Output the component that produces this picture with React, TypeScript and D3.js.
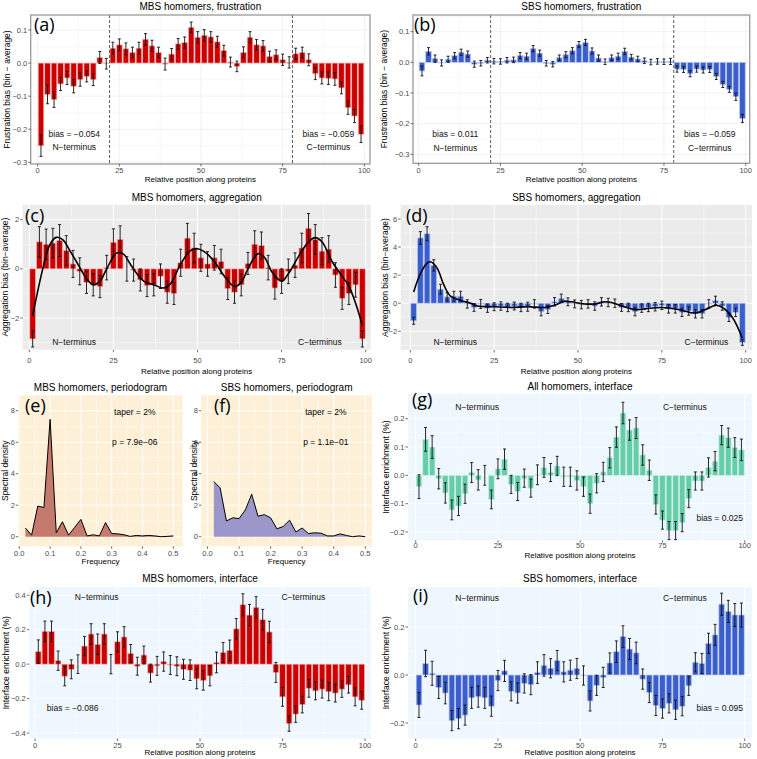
import React from "react";
import * as d3 from "d3";

// ---------- DATA ----------
const positions = [1, 3, 5, 7, 9, 11, 13, 15, 17, 19, 21, 23, 25, 27, 29, 31, 33, 35, 37, 39, 41, 43, 45, 47, 49, 51, 53, 55, 57, 59, 61, 63, 65, 67, 69, 71, 73, 75, 77, 79, 81, 83, 85, 87, 89, 91, 93, 95, 97, 99];
const xTicks = [0, 25, 50, 75, 100];

const frustMBS = [-0.25, -0.095, -0.11, -0.063, -0.045, -0.07, -0.05, -0.04, -0.05, 0.017, -0.002, 0.045, 0.055, 0.043, 0.032, 0.045, 0.072, 0.052, 0.032, -0.003, 0.027, 0.058, 0.062, 0.108, 0.078, 0.084, 0.079, 0.064, 0.038, 0.003, -0.01, 0.032, 0.078, 0.055, 0.052, 0.02, 0.025, 0.01, 0.002, 0.028, 0.032, 0.01, -0.032, -0.045, -0.046, -0.048, -0.075, -0.135, -0.16, -0.215];
const frustMBSErr = [0.032, 0.028, 0.024, 0.02, 0.02, 0.02, 0.02, 0.017, 0.018, 0.018, 0.016, 0.018, 0.018, 0.018, 0.016, 0.018, 0.017, 0.017, 0.016, 0.018, 0.017, 0.016, 0.017, 0.016, 0.017, 0.017, 0.016, 0.017, 0.016, 0.015, 0.016, 0.017, 0.017, 0.016, 0.016, 0.016, 0.015, 0.017, 0.017, 0.017, 0.016, 0.018, 0.018, 0.018, 0.019, 0.019, 0.018, 0.02, 0.02, 0.025];

const frustSBS = [-0.028, 0.036, 0.012, -0.002, 0.01, 0.022, 0.033, 0.027, -0.006, -0.003, 0.007, 0.004, 0.003, 0.007, 0.008, 0.022, 0.02, 0.045, 0.03, -0.003, -0.006, 0.015, 0.025, 0.038, 0.058, 0.065, 0.037, 0.014, 0.002, 0.015, 0.02, 0.036, 0.017, 0.011, 0.005, 0.001, 0.003, 0.002, 0.003, -0.022, -0.023, -0.037, -0.022, -0.025, -0.023, -0.046, -0.072, -0.088, -0.112, -0.183];
const frustSBSErr = [0.016, 0.012, 0.012, 0.01, 0.01, 0.01, 0.01, 0.01, 0.01, 0.009, 0.009, 0.009, 0.009, 0.009, 0.009, 0.01, 0.01, 0.01, 0.01, 0.009, 0.009, 0.009, 0.01, 0.01, 0.01, 0.01, 0.01, 0.01, 0.009, 0.009, 0.01, 0.01, 0.009, 0.009, 0.009, 0.009, 0.009, 0.009, 0.01, 0.01, 0.01, 0.01, 0.01, 0.01, 0.01, 0.01, 0.01, 0.01, 0.012, 0.013];

const aggMBS = [-2.85, 1.1, 1.0, 1.05, 1.15, 0.75, 0.2, -0.1, -0.55, -0.65, -0.72, 0.05, 1.08, 1.2, 0.0, -0.05, -0.45, -0.68, -0.65, -0.3, -0.95, -1.0, 0.25, 1.25, 0.85, 0.45, 0.2, 0.45, 0.3, -0.8, -0.95, -0.65, 0.22, 1.0, 0.95, 0.05, -0.78, -0.5, -0.1, 0.15, 0.85, 1.65, 1.2, 0.72, 0.8, -0.25, -1.2, -1.0, -0.65, -2.85];
const aggMBSErr = [0.33, 0.62, 0.62, 0.6, 0.65, 0.6, 0.55, 0.55, 0.45, 0.45, 0.45, 0.5, 0.55, 0.55, 0.5, 0.45, 0.45, 0.45, 0.45, 0.5, 0.45, 0.45, 0.55, 0.6, 0.6, 0.55, 0.5, 0.5, 0.5, 0.45, 0.45, 0.45, 0.45, 0.55, 0.55, 0.5, 0.45, 0.5, 0.5, 0.5, 0.6, 0.6, 0.6, 0.55, 0.55, 0.5, 0.45, 0.45, 0.5, 0.33];
const aggMBSSmooth: [number, number][] = [[1, -1.9], [4, 0.0], [6, 0.95], [8, 1.28], [10, 1.18], [12, 0.75], [14, 0.3], [17, -0.4], [19, -0.65], [21, -0.5], [23, 0.0], [26, 0.65], [28, 0.6], [30, 0.2], [32, -0.2], [34, -0.5], [37, -0.65], [40, -0.78], [42, -0.6], [45, 0.2], [48, 0.75], [50, 0.82], [52, 0.7], [55, 0.3], [58, -0.3], [61, -0.72], [63, -0.55], [65, 0.0], [68, 0.62], [70, 0.45], [72, -0.1], [75, -0.5], [77, -0.2], [80, 0.5], [83, 1.1], [85, 1.27], [87, 1.1], [90, 0.3], [93, -0.3], [95, -0.7], [97, -1.4], [99, -2.3]];

const aggSBS = [-1.25, 4.65, 4.95, 2.7, 1.0, 0.45, 0.5, 0.5, -0.05, -0.3, -0.05, -0.35, -0.25, -0.2, -0.3, -0.2, -0.3, -0.25, -0.05, -0.6, -0.45, 0.1, 0.35, 0.1, -0.05, -0.1, -0.05, -0.2, 0.1, 0.05, 0.0, -0.3, -0.3, -0.6, -0.35, -0.3, -0.25, -0.15, -0.4, -0.4, -0.65, -0.55, -0.75, -0.75, -0.05, 0.2, -0.2, -1.0, -0.65, -2.8];
const aggSBSErr = [0.25, 0.45, 0.5, 0.4, 0.35, 0.3, 0.35, 0.35, 0.3, 0.28, 0.32, 0.3, 0.28, 0.3, 0.3, 0.28, 0.3, 0.32, 0.3, 0.3, 0.28, 0.3, 0.3, 0.28, 0.28, 0.3, 0.3, 0.3, 0.3, 0.3, 0.3, 0.28, 0.3, 0.3, 0.3, 0.3, 0.3, 0.3, 0.3, 0.3, 0.3, 0.3, 0.3, 0.3, 0.3, 0.3, 0.3, 0.3, 0.3, 0.2];
const aggSBSSmooth: [number, number][] = [[1, 0.8], [3, 2.1], [5, 2.85], [6, 2.95], [8, 2.5], [10, 1.3], [12, 0.5], [15, 0.2], [18, 0.0], [20, -0.2], [25, -0.25], [30, -0.3], [35, -0.25], [40, -0.3], [44, -0.05], [46, 0.15], [48, 0.1], [52, -0.05], [55, -0.05], [58, 0.1], [60, 0.05], [63, -0.2], [67, -0.45], [70, -0.4], [75, -0.3], [80, -0.45], [85, -0.7], [88, -0.45], [91, -0.15], [93, -0.3], [96, -1.0], [99, -2.5]];

const freqs = [0.02, 0.04, 0.06, 0.08, 0.1, 0.12, 0.14, 0.16, 0.18, 0.2, 0.22, 0.24, 0.26, 0.28, 0.3, 0.32, 0.34, 0.36, 0.38, 0.4, 0.42, 0.44, 0.46, 0.48, 0.5];
const specMBS = [0.55, 0.1, 1.95, 1.85, 7.45, 0.25, 0.95, 0.1, 0.6, 1.1, 0.05, 0.12, 0.05, 0.9, 0.2, 0.18, 0.12, 0.02, 0.08, 0.05, 0.08, 0.05, 0.0, 0.02, 0.05];
const specSBS = [3.5, 3.1, 1.0, 1.2, 1.15, 1.7, 2.7, 1.3, 1.4, 1.2, 0.5, 0.65, 1.05, 0.3, 0.55, 0.2, 0.25, 0.22, 0.05, 0.05, 0.18, 0.08, 0.0, 0.05, 0.0];
const freqTicks = [0, 0.1, 0.2, 0.3, 0.4, 0.5];

const ifaceAll = [-0.04, 0.127, 0.1, -0.012, -0.062, -0.122, -0.108, -0.065, 0.01, -0.016, 0.0, -0.085, 0.023, 0.057, -0.032, -0.057, -0.01, -0.045, 0.002, 0.028, 0.01, 0.033, -0.005, -0.005, -0.018, -0.04, -0.1, -0.028, 0.012, 0.062, 0.135, 0.22, 0.16, 0.167, 0.072, 0.018, -0.103, -0.158, -0.195, -0.195, -0.167, -0.082, -0.02, -0.02, 0.028, 0.05, 0.142, 0.133, 0.098, 0.09];
const ifaceAllErr = [0.042, 0.042, 0.04, 0.036, 0.036, 0.035, 0.034, 0.034, 0.035, 0.036, 0.035, 0.033, 0.035, 0.036, 0.032, 0.032, 0.032, 0.032, 0.035, 0.035, 0.032, 0.034, 0.034, 0.034, 0.034, 0.034, 0.034, 0.034, 0.034, 0.036, 0.036, 0.038, 0.036, 0.037, 0.036, 0.036, 0.034, 0.032, 0.032, 0.032, 0.032, 0.032, 0.032, 0.032, 0.034, 0.034, 0.034, 0.034, 0.035, 0.038];

const ifaceMBS = [0.073, 0.19, 0.19, 0.02, -0.07, -0.03, 0.0, 0.105, 0.175, 0.115, 0.175, 0.0, 0.13, 0.158, 0.062, -0.012, 0.053, -0.052, -0.01, 0.015, -0.005, -0.012, -0.03, -0.035, -0.085, -0.095, -0.068, 0.01, 0.068, 0.08, 0.205, 0.345, 0.285, 0.33, 0.258, 0.187, -0.048, -0.19, -0.345, -0.29, -0.235, -0.14, -0.155, -0.145, -0.16, -0.168, -0.145, -0.12, -0.19, -0.21];
const ifaceMBSErr = [0.068, 0.06, 0.06, 0.056, 0.056, 0.055, 0.054, 0.056, 0.06, 0.06, 0.06, 0.056, 0.058, 0.06, 0.052, 0.052, 0.052, 0.052, 0.055, 0.056, 0.055, 0.055, 0.058, 0.06, 0.058, 0.056, 0.058, 0.06, 0.058, 0.06, 0.06, 0.064, 0.062, 0.062, 0.06, 0.062, 0.058, 0.055, 0.045, 0.048, 0.048, 0.052, 0.052, 0.052, 0.052, 0.052, 0.048, 0.048, 0.052, 0.052];

const ifaceSBS = [-0.125, 0.048, 0.007, -0.052, -0.075, -0.19, -0.182, -0.167, -0.095, -0.09, -0.095, -0.13, -0.023, 0.017, -0.068, -0.075, -0.035, -0.04, 0.01, 0.04, 0.028, 0.06, 0.013, 0.02, 0.027, -0.002, -0.108, -0.043, -0.01, 0.05, 0.097, 0.16, 0.108, 0.092, -0.017, -0.073, -0.127, -0.14, -0.118, -0.145, -0.13, -0.045, 0.053, 0.048, 0.132, 0.167, 0.295, 0.265, 0.25, 0.25];
const ifaceSBSErr = [0.052, 0.055, 0.05, 0.046, 0.045, 0.042, 0.042, 0.042, 0.044, 0.044, 0.044, 0.042, 0.042, 0.044, 0.04, 0.042, 0.04, 0.042, 0.045, 0.045, 0.04, 0.042, 0.042, 0.042, 0.042, 0.04, 0.042, 0.042, 0.042, 0.042, 0.045, 0.045, 0.044, 0.045, 0.042, 0.042, 0.042, 0.04, 0.04, 0.04, 0.04, 0.04, 0.04, 0.042, 0.042, 0.044, 0.046, 0.046, 0.048, 0.05];

// ---------- STYLE ----------
const FONT = "'Liberation Sans', Arial, Helvetica, sans-serif";
const LABFONT = "'Open Sans', 'DejaVu Sans', sans-serif";
const RED = "#CD0000", RED_S = "#F5B3B3";
const BLUE = "#3A5FCD", BLUE_S = "#BCC9F2";
const TEAL = "#66CDAA", TEAL_S = "#C6EEDF";
const GRAYBG = "#EBEBEB", ORANGEBG = "#FEF0D6", BLUEBG = "#EEF6FE";

type Note = { text: string; x: number; y: number; anchor?: string };
type BarCfg = {
  title: string; titleY: number;
  rect: [number, number, number, number];
  xPx: [number, number];
  yMap: [number, number, number, number];
  yTicks: number[]; yMinor: number[]; fmt: (v: number) => string;
  bg: string; grid: string; bw?: boolean;
  values: number[]; errs: number[]; fill: string; stroke: string;
  smooth?: [number, number][];
  vlines?: number[];
  notes: Note[];
  label: string; labelX: number; labelY: number;
  yTitle: string; yTitleX: number;
  xTitleY: number; xTickY: number;
};

const f1 = (v: number) => d3.format(".1f")(v).replace("-", "\u2212");
const f0 = (v: number) => d3.format("d")(v).replace("-", "\u2212");

function BarPanel({ c }: { c: BarCfg }) {
  const [l, t, r, b] = c.rect;
  const x = d3.scaleLinear().domain([0, 100]).range(c.xPx);
  const y = d3.scaleLinear().domain([c.yMap[0], c.yMap[2]]).range([c.yMap[1], c.yMap[3]]);
  const bw = x(1.7) - x(0);
  const cap = x(0.45) - x(0);
  const minorX = [12.5, 37.5, 62.5, 87.5];
  const gMajor = c.bw ? 0.7 : 1.0;
  const gMinor = c.bw ? 0.35 : 0.5;
  const line = d3.line<[number, number]>().x(d => x(d[0])).y(d => y(d[1])).curve(d3.curveCatmullRom.alpha(0.5));
  const cx = (l + r) / 2, cy = (t + b) / 2;
  return (
    <g>
      <rect x={l} y={t} width={r - l} height={b - t} fill={c.bg} />
      {c.yMinor.map(v => <line key={"ym" + v} x1={l} x2={r} y1={y(v)} y2={y(v)} stroke={c.grid} strokeWidth={gMinor} />)}
      {minorX.map(v => <line key={"xm" + v} x1={x(v)} x2={x(v)} y1={t} y2={b} stroke={c.grid} strokeWidth={gMinor} />)}
      {c.yTicks.map(v => <line key={"yM" + v} x1={l} x2={r} y1={y(v)} y2={y(v)} stroke={c.grid} strokeWidth={gMajor} />)}
      {xTicks.map(v => <line key={"xM" + v} x1={x(v)} x2={x(v)} y1={t} y2={b} stroke={c.grid} strokeWidth={gMajor} />)}
      {c.values.map((v, i) => (
        <rect key={"b" + i} x={x(positions[i]) - bw / 2} y={Math.min(y(v), y(0))} width={bw}
          height={Math.abs(y(v) - y(0))} fill={c.fill} stroke={c.stroke} strokeWidth={0.7} />
      ))}
      {c.values.map((v, i) => {
        const px = x(positions[i]);
        const y1 = y(v + c.errs[i]), y2 = y(v - c.errs[i]);
        return (
          <g key={"e" + i} stroke="#111" strokeWidth={0.9}>
            <line x1={px} x2={px} y1={y1} y2={y2} />
            <line x1={px - cap} x2={px + cap} y1={y1} y2={y1} />
            <line x1={px - cap} x2={px + cap} y1={y2} y2={y2} />
          </g>
        );
      })}
      {c.smooth && <path d={line(c.smooth) || ""} fill="none" stroke="#000" strokeWidth={1.6} />}
      {(c.vlines || []).map(v => <line key={"v" + v} x1={x(v)} x2={x(v)} y1={t} y2={b} stroke="#333" strokeWidth={0.8} strokeDasharray="3,2" />)}
      {c.bw && <rect x={l} y={t} width={r - l} height={b - t} fill="none" stroke="#9a9a9a" strokeWidth={1.3} />}
      {c.notes.map((n, i) => (
        <text key={"n" + i} x={x(n.x)} y={y(n.y)} textAnchor={n.anchor || "middle"} fontSize={8.5} fontFamily={FONT} fill="#111">{n.text}</text>
      ))}
      <text x={c.labelX} y={c.labelY} fontSize={18} fontFamily={LABFONT} fill="#000">{c.label}</text>
      {c.yTicks.map(v => (
        <g key={"yt" + v}>
          <line x1={l - 2.5} x2={l} y1={y(v)} y2={y(v)} stroke="#333" strokeWidth={0.7} />
          <text x={l - 3.5} y={y(v) + 2.6} textAnchor="end" fontSize={7.5} fontFamily={FONT} fill="#4D4D4D">{c.fmt(v)}</text>
        </g>
      ))}
      {xTicks.map(v => (
        <g key={"xt" + v}>
          <line x1={x(v)} x2={x(v)} y1={b} y2={b + 2.5} stroke="#333" strokeWidth={0.7} />
          <text x={x(v)} y={c.xTickY} textAnchor="middle" fontSize={7.5} fontFamily={FONT} fill="#4D4D4D">{v}</text>
        </g>
      ))}
      <text x={cx} y={c.titleY} textAnchor="middle" fontSize={10} fontFamily={FONT} fill="#000">{c.title}</text>
      <text x={cx} y={c.xTitleY} textAnchor="middle" fontSize={8} fontFamily={FONT} fill="#000">Relative position along proteins</text>
      <text x={c.yTitleX} y={cy} transform={`rotate(-90, ${c.yTitleX}, ${cy})`} textAnchor="middle" fontSize={8.5} fontFamily={FONT} fill="#000">{c.yTitle}</text>
    </g>
  );
}

type SpecCfg = {
  title: string; rect: [number, number, number, number]; xPx: [number, number]; yMap: [number, number, number, number];
  values: number[]; fill: string; label: string; labelX: number; labelY: number; yTitleX: number; pText: string;
};

function SpecPanel({ c }: { c: SpecCfg }) {
  const [l, t, r, b] = c.rect;
  const x = d3.scaleLinear().domain([0, 0.5]).range(c.xPx);
  const y = d3.scaleLinear().domain([c.yMap[0], c.yMap[2]]).range([c.yMap[1], c.yMap[3]]);
  const yTicks = [0, 2, 4, 6, 8];
  const yMinor = [1, 3, 5, 7];
  const xMinor = [0.05, 0.15, 0.25, 0.35, 0.45];
  const pts = c.values.map((v, i) => [freqs[i], v] as [number, number]);
  const area = d3.area<[number, number]>().x(d => x(d[0])).y0(y(0)).y1(d => y(d[1]));
  const line = d3.line<[number, number]>().x(d => x(d[0])).y(d => y(d[1]));
  const cx = (l + r) / 2, cy = (t + b) / 2;
  return (
    <g>
      <rect x={l} y={t} width={r - l} height={b - t} fill={ORANGEBG} />
      {yMinor.map(v => <line key={"ym" + v} x1={l} x2={r} y1={y(v)} y2={y(v)} stroke="#fff" strokeWidth={0.5} />)}
      {xMinor.map(v => <line key={"xm" + v} x1={x(v)} x2={x(v)} y1={t} y2={b} stroke="#fff" strokeWidth={0.5} />)}
      {yTicks.map(v => <line key={"yM" + v} x1={l} x2={r} y1={y(v)} y2={y(v)} stroke="#fff" strokeWidth={1} />)}
      {freqTicks.map(v => <line key={"xM" + v} x1={x(v)} x2={x(v)} y1={t} y2={b} stroke="#fff" strokeWidth={1} />)}
      <path d={area(pts) || ""} fill={c.fill} />
      <path d={line(pts) || ""} fill="none" stroke="#000" strokeWidth={1} />
      <text x={x(0.375)} y={y(7.75)} textAnchor="middle" fontSize={8.5} fontFamily={FONT}>taper = 2%</text>
      <text x={x(0.375)} y={y(5.8)} textAnchor="middle" fontSize={8.5} fontFamily={FONT}>{c.pText}</text>
      <text x={c.labelX} y={c.labelY} fontSize={18} fontFamily={LABFONT} fill="#000">{c.label}</text>
      {yTicks.map(v => (
        <g key={"yt" + v}>
          <line x1={l - 2.5} x2={l} y1={y(v)} y2={y(v)} stroke="#333" strokeWidth={0.7} />
          <text x={l - 3.5} y={y(v) + 2.6} textAnchor="end" fontSize={7.5} fontFamily={FONT} fill="#4D4D4D">{v}</text>
        </g>
      ))}
      {freqTicks.map(v => (
        <g key={"xt" + v}>
          <line x1={x(v)} x2={x(v)} y1={b} y2={b + 2.5} stroke="#333" strokeWidth={0.7} />
          <text x={x(v)} y={556} textAnchor="middle" fontSize={7.5} fontFamily={FONT} fill="#4D4D4D">{d3.format(".1f")(v)}</text>
        </g>
      ))}
      <text x={cx} y={391} textAnchor="middle" fontSize={10} fontFamily={FONT}>{c.title}</text>
      <text x={cx} y={564} textAnchor="middle" fontSize={8} fontFamily={FONT}>Frequency</text>
      <text x={c.yTitleX} y={cy} transform={`rotate(-90, ${c.yTitleX}, ${cy})`} textAnchor="middle" fontSize={8.5} fontFamily={FONT}>Spectral density</text>
    </g>
  );
}

const NT = "N\u2212terminus", CT = "C\u2212terminus";

const panels: BarCfg[] = [
  {
    title: "MBS homomers, frustration", titleY: 10, rect: [30.7, 15, 370, 164], xPx: [37.7, 364.3], yMap: [0.1, 30, -0.3, 162.3],
    yTicks: [-0.3, -0.2, -0.1, 0, 0.1], yMinor: [-0.25, -0.15, -0.05, 0.05], fmt: f1, bg: "#fff", grid: "#EBEBEB", bw: true,
    values: frustMBS, errs: frustMBSErr, fill: RED, stroke: RED_S, vlines: [22, 78],
    notes: [{ text: "bias = \u22120.054", x: 11.2, y: -0.222 }, { text: NT, x: 11.2, y: -0.262 }, { text: "bias = \u22120.059", x: 89, y: -0.222 }, { text: CT, x: 89, y: -0.262 }],
    label: "(a)", labelX: 34, labelY: 31, yTitle: "Frustration bias (bin \u2212 average)", yTitleX: 9.5, xTitleY: 182, xTickY: 173.3,
  },
  {
    title: "SBS homomers, frustration", titleY: 10, rect: [413, 15, 749.7, 163.3], xPx: [418.7, 745.7], yMap: [0.1, 31.7, -0.3, 154.3],
    yTicks: [-0.3, -0.2, -0.1, 0, 0.1], yMinor: [-0.25, -0.15, -0.05, 0.05, 0.15], fmt: f1, bg: "#fff", grid: "#EBEBEB", bw: true,
    values: frustSBS, errs: frustSBSErr, fill: BLUE, stroke: BLUE_S, vlines: [22, 78],
    notes: [{ text: "bias = 0.011", x: 11.2, y: -0.245 }, { text: NT, x: 11.2, y: -0.288 }, { text: "bias = \u22120.059", x: 89, y: -0.245 }, { text: CT, x: 89, y: -0.288 }],
    label: "(b)", labelX: 414, labelY: 31, yTitle: "Frustration bias (bin \u2212 average)", yTitleX: 387.5, xTitleY: 182, xTickY: 173.3,
  },
  {
    title: "MBS homomers, aggregation", titleY: 200.5, rect: [22.7, 204.7, 370.7, 349.7], xPx: [29.3, 365.7], yMap: [2, 219.7, -2, 318],
    yTicks: [-2, 0, 2], yMinor: [-3, -1, 1], fmt: f0, bg: GRAYBG, grid: "#fff",
    values: aggMBS, errs: aggMBSErr, fill: RED, stroke: RED_S, smooth: aggMBSSmooth,
    notes: [{ text: NT, x: 13.3, y: -3.1 }, { text: CT, x: 86.4, y: -3.1 }],
    label: "(c)", labelX: 25, labelY: 221.5, yTitle: "Aggregation bias (bin\u2212average)", yTitleX: 8.5, xTitleY: 373.5, xTickY: 363.3,
  },
  {
    title: "SBS homomers, aggregation", titleY: 200.5, rect: [400.7, 205, 752, 350], xPx: [410.3, 745.7], yMap: [6, 219, -2, 331.3],
    yTicks: [-2, 0, 2, 4, 6], yMinor: [-3, -1, 1, 3, 5], fmt: f0, bg: GRAYBG, grid: "#fff",
    values: aggSBS, errs: aggSBSErr, fill: BLUE, stroke: BLUE_S, smooth: aggSBSSmooth,
    notes: [{ text: NT, x: 13.4, y: -2.95 }, { text: CT, x: 88.3, y: -2.95 }],
    label: "(d)", labelX: 406, labelY: 221.5, yTitle: "Aggregation bias (bin\u2212average)", yTitleX: 388, xTitleY: 373.5, xTickY: 363.3,
  },
  {
    title: "All homomers, interface", titleY: 390, rect: [408, 393.7, 752, 540.3], xPx: [415.7, 744.7], yMap: [0.2, 418.7, -0.2, 532],
    yTicks: [-0.2, -0.1, 0, 0.1, 0.2], yMinor: [-0.15, -0.05, 0.05, 0.15, 0.25], fmt: f1, bg: BLUEBG, grid: "#fff",
    values: ifaceAll, errs: ifaceAllErr, fill: TEAL, stroke: TEAL_S,
    notes: [{ text: NT, x: 18.7, y: 0.23 }, { text: CT, x: 81.8, y: 0.23 }, { text: "bias = 0.025", x: 92.4, y: -0.16 }],
    label: "(g)", labelX: 412, labelY: 406, yTitle: "Interface enrichment (%)", yTitleX: 388.5, xTitleY: 557.5, xTickY: 547.5,
  },
  {
    title: "MBS homomers, interface", titleY: 582, rect: [29.3, 587, 370.7, 738.5], xPx: [35, 365], yMap: [0.4, 595.3, -0.4, 733],
    yTicks: [-0.4, -0.2, 0, 0.2, 0.4], yMinor: [-0.3, -0.1, 0.1, 0.3], fmt: f1, bg: BLUEBG, grid: "#fff",
    values: ifaceMBS, errs: ifaceMBSErr, fill: RED, stroke: RED_S,
    notes: [{ text: NT, x: 18.7, y: 0.37 }, { text: CT, x: 81.3, y: 0.37 }, { text: "bias = \u22120.086", x: 11.4, y: -0.27 }],
    label: "(h)", labelX: 30, labelY: 603.5, yTitle: "Interface enrichment (%)", yTitleX: 8.5, xTitleY: 755, xTickY: 747.5,
  },
  {
    title: "SBS homomers, interface", titleY: 582, rect: [408, 587, 752, 738.5], xPx: [415.7, 744.7], yMap: [0.2, 627, -0.2, 723],
    yTicks: [-0.2, 0, 0.2], yMinor: [-0.1, 0.1, 0.3], fmt: f1, bg: BLUEBG, grid: "#fff",
    values: ifaceSBS, errs: ifaceSBSErr, fill: BLUE, stroke: BLUE_S,
    notes: [{ text: NT, x: 18.7, y: 0.31 }, { text: CT, x: 81.8, y: 0.31 }, { text: "bias = 0.095", x: 92.4, y: -0.152 }],
    label: "(i)", labelX: 413, labelY: 602, yTitle: "Interface enrichment (%)", yTitleX: 388.5, xTitleY: 755, xTickY: 747.5,
  },
];

const specPanels: SpecCfg[] = [
  { title: "MBS homomers, periodogram", rect: [18.3, 395.3, 182.7, 546.3], xPx: [19.3, 173.3], yMap: [8, 410.7, 0, 536.7], values: specMBS, fill: "#C47A6C", label: "(e)", labelX: 25, labelY: 412, yTitleX: 8, pText: "p = 7.9e\u221206" },
  { title: "SBS homomers, periodogram", rect: [201.3, 395.3, 372, 546.3], xPx: [207.5, 365.3], yMap: [8, 410.7, 0, 536.7], values: specSBS, fill: "#9C97CB", label: "(f)", labelX: 214, labelY: 412, yTitleX: 197.5, pText: "p = 1.1e\u221201" },
];

export default function App() {
  return (
    <svg width={757} height={759} style={{ display: "block", position: "absolute", left: 0, top: 0, background: "#fff" }}>
      {panels.map((p, i) => <BarPanel key={i} c={p} />)}
      {specPanels.map((p, i) => <SpecPanel key={"s" + i} c={p} />)}
    </svg>
  );
}
